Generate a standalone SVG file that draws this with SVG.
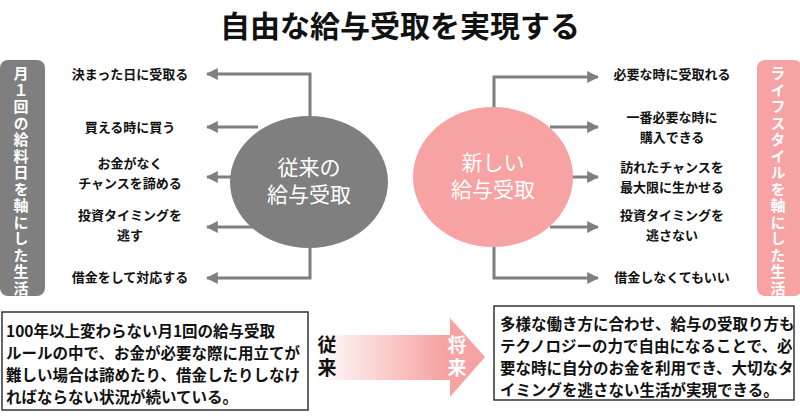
<svg xmlns="http://www.w3.org/2000/svg" width="800" height="419" viewBox="0 0 800 419">
<defs>
<style>
text{font-family:"Noto Sans CJK JP","Noto Sans",sans-serif;font-weight:bold;fill:#111}
.lbl{font-size:13px;text-anchor:middle}
.side{font-size:15px;fill:#fff;writing-mode:vertical-rl;text-orientation:upright;letter-spacing:1.5px}
.big{font-size:21px;fill:#fff;text-anchor:middle;font-weight:normal}
.body{font-size:15.5px}
.gl{stroke:#7f7f7f;stroke-width:3;fill:none}
</style>
<marker id="ah" viewBox="0 0 10 10" refX="9" refY="5" markerWidth="4" markerHeight="4" orient="auto-start-reverse"><path d="M0,0L10,5L0,10z" fill="#7f7f7f"/></marker>
<linearGradient id="grad" x1="0" x2="1" y1="0" y2="0"><stop offset="0" stop-color="#f7a3a3" stop-opacity="0"/><stop offset="0.75" stop-color="#f7a3a3"/><stop offset="1" stop-color="#f7a3a3"/></linearGradient>
</defs>
<rect width="800" height="419" fill="#fff"/>
<g id="title"><text x="400" y="37" font-size="30" text-anchor="middle">自由な給与受取を実現する</text></g>
<g id="connectors">
<path class="gl" d="M310,117V74H207" marker-end="url(#ah)"/>
<path class="gl" d="M258,127H207" marker-end="url(#ah)"/>
<path class="gl" d="M231,177H207" marker-end="url(#ah)"/>
<path class="gl" d="M258,227H207" marker-end="url(#ah)"/>
<path class="gl" d="M310,247V278H207" marker-end="url(#ah)"/>
<path class="gl" d="M494,107V77H598" marker-end="url(#ah)"/>
<path class="gl" d="M550,127H598" marker-end="url(#ah)"/>
<path class="gl" d="M572,177H598" marker-end="url(#ah)"/>
<path class="gl" d="M550,227H598" marker-end="url(#ah)"/>
<path class="gl" d="M494,247V278H598" marker-end="url(#ah)"/>
</g>
<g id="leftside"><rect x="0" y="60" width="45" height="236" rx="8" fill="#7f7f7f"/>
<text class="side" x="21" y="66">月１回の給料日を軸にした生活</text></g>
<g id="rightside"><rect x="757" y="60" width="45" height="236" rx="8" fill="#f7a3a3"/>
<text class="side" x="778" y="66">ライフスタイルを軸にした生活</text></g>
<g id="oldcircle"><ellipse cx="309" cy="182" rx="79" ry="66" fill="#7f7f7f"/><text class="big"><tspan x="309" y="175">従来の</tspan><tspan x="309" y="202">給与受取</tspan></text></g>
<g id="newcircle"><ellipse cx="493" cy="177" rx="80" ry="70" fill="#f7a3a3"/><text class="big"><tspan x="493" y="170">新しい</tspan><tspan x="493" y="197">給与受取</tspan></text></g>
<g id="leftlabels">
<text class="lbl" x="130" y="79">決まった日に受取る</text>
<text class="lbl" x="130" y="132">買える時に買う</text>
<text class="lbl"><tspan x="130" y="168">お金がなく</tspan><tspan x="130" y="188">チャンスを諦める</tspan></text>
<text class="lbl"><tspan x="130" y="220">投資タイミングを</tspan><tspan x="130" y="240">逃す</tspan></text>
<text class="lbl" x="130" y="282">借金をして対応する</text>
</g>
<g id="rightlabels">
<text class="lbl" x="672" y="79">必要な時に受取れる</text>
<text class="lbl"><tspan x="672" y="122">一番必要な時に</tspan><tspan x="672" y="142">購入できる</tspan></text>
<text class="lbl"><tspan x="672" y="172">訪れたチャンスを</tspan><tspan x="672" y="192">最大限に生かせる</tspan></text>
<text class="lbl"><tspan x="672" y="220">投資タイミングを</tspan><tspan x="672" y="240">逃さない</tspan></text>
<text class="lbl" x="672" y="282">借金しなくてもいい</text>
</g>
<g id="leftbox"><rect x="2" y="312" width="306" height="98" fill="#fff" stroke="#333" stroke-width="1.5"/>
<text class="body"><tspan x="6" y="337">100年以上変わらない月1回の給与受取</tspan><tspan x="6" y="359">ルールの中で、お金が必要な際に用立てが</tspan><tspan x="6" y="381">難しい場合は諦めたり、借金したりしなけ</tspan><tspan x="6" y="403">ればならない状況が続いている。</tspan></text></g>
<g id="arrow"><path d="M315,335H450V318L485,357L450,397V380H315z" fill="url(#grad)"/>
<text font-size="19" text-anchor="middle"><tspan x="327" y="352">従</tspan><tspan x="327" y="375">来</tspan></text>
<text font-size="19" text-anchor="middle" style="fill:#fff"><tspan x="457" y="352">将</tspan><tspan x="457" y="375">来</tspan></text></g>
<g id="rightbox"><rect x="494" y="306" width="300" height="94" fill="#fff" stroke="#333" stroke-width="1.5"/>
<text class="body"><tspan x="500" y="330">多様な働き方に合わせ、給与の受取り方も</tspan><tspan x="500" y="352">テクノロジーの力で自由になることで、必</tspan><tspan x="500" y="374">要な時に自分のお金を利用でき、大切なタ</tspan><tspan x="500" y="396">イミングを逃さない生活が実現できる。</tspan></text></g>
</svg>
